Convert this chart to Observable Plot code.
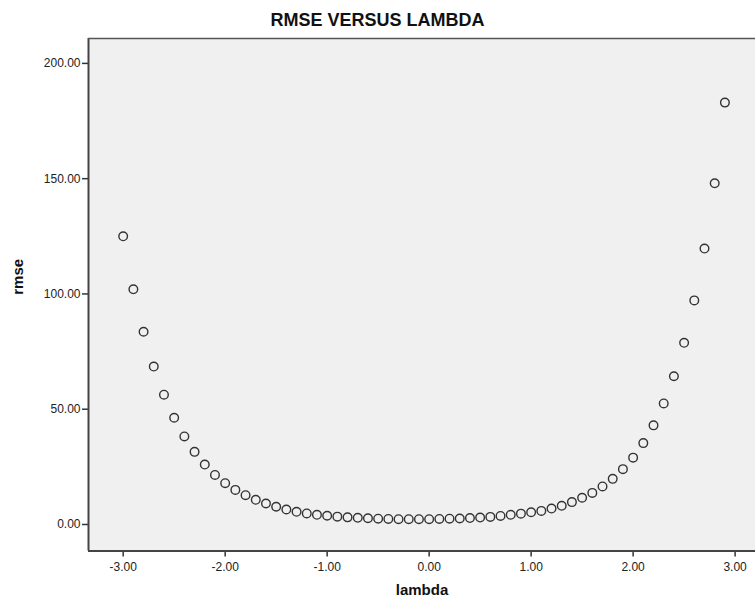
<!DOCTYPE html>
<html>
<head>
<meta charset="utf-8">
<script src="https://cdn.jsdelivr.net/npm/d3@7"></script>
<script src="https://cdn.jsdelivr.net/npm/@observablehq/plot@0.6"></script>
<style>
  body { margin: 0; background: #fff; font-family: "Liberation Sans Narrow", "Liberation Sans", Arial, sans-serif; }
  #title { height: 30px; line-height: 40px; text-align: center; font-weight: bold; font-size: 18px; color: #111; width: 755px; }
</style>
</head>
<body>
<div id="title">RMSE VERSUS LAMBDA</div>
<div id="chart"></div>
<script>
const lambda = [-3.0,-2.9,-2.8,-2.7,-2.6,-2.5,-2.4,-2.3,-2.2,-2.1,-2.0,-1.9,-1.8,-1.7,-1.6,-1.5,-1.4,-1.3,-1.2,-1.1,-1.0,-0.9,-0.8,-0.7,-0.6,-0.5,-0.4,-0.3,-0.2,-0.1,0.0,0.1,0.2,0.3,0.4,0.5,0.6,0.7,0.8,0.9,1.0,1.1,1.2,1.3,1.4,1.5,1.6,1.7,1.8,1.9,2.0,2.1,2.2,2.3,2.4,2.5,2.6,2.7,2.8,2.9];
const rmse = [125,102,83.6,68.5,56.3,46.3,38.2,31.5,26,21.5,17.9,15,12.7,10.7,9.1,7.7,6.5,5.5,4.8,4.2,3.8,3.4,3.1,2.9,2.7,2.5,2.4,2.3,2.3,2.3,2.3,2.4,2.5,2.6,2.8,3.0,3.3,3.7,4.2,4.7,5.3,5.9,6.9,8.1,9.7,11.6,13.7,16.5,19.8,24,29,35.3,43,52.5,64.3,78.8,97.2,119.7,148,183];
const xTicks = [-3,-2,-1,0,1,2,3];
const yTicks = [0,50,100,150,200];
const xLabel = "lambda";
const yLabel = "rmse";

const data = lambda.map((l, i) => ({lambda: l, rmse: rmse[i]}));
const xDom = [-3.34, 3.2];
const yDom = [-11.5, 210.8];

const chart = Plot.plot({
  width: 755,
  height: 577,
  marginLeft: 88,
  marginRight: 0,
  marginTop: 8,
  marginBottom: 56.5,
  style: { fontFamily: '"Liberation Sans Narrow", "Liberation Sans", Arial, sans-serif', fontSize: "12px", color: "#222", background: "transparent" },
  x: { domain: xDom },
  y: { domain: yDom },
  marks: [
    Plot.frame({ fill: "#f0f0f0", stroke: null }),
    Plot.axisX({ ticks: xTicks, tickFormat: d => d.toFixed(2), tickSize: 6, tickPadding: 5, stroke: "#333", strokeWidth: 1.5, label: null }),
    Plot.axisY({ ticks: yTicks, tickFormat: d => d.toFixed(2), tickSize: 6, tickPadding: 2, stroke: "#333", strokeWidth: 1.5, label: null }),
    Plot.text([xLabel], { text: d => d, frameAnchor: "bottom", dy: 44, fontWeight: "bold", fontSize: 15, fill: "#111" }),
    Plot.text([yLabel], { text: d => d, frameAnchor: "left", dx: -70, rotate: -90, fontWeight: "bold", fontSize: 15, fill: "#111" }),
    Plot.ruleX([xDom[0]], { stroke: "#444", strokeWidth: 2 }),
    Plot.ruleY([yDom[0]], { stroke: "#444", strokeWidth: 2 }),
    Plot.ruleY([yDom[1]], { stroke: "#555", strokeWidth: 1.5 }),
    Plot.dot(data, { x: "lambda", y: "rmse", r: 4.3, stroke: "#333", strokeWidth: 1.4, fill: "none" })
  ]
});
document.getElementById("chart").appendChild(chart);
</script>
</body>
</html>
